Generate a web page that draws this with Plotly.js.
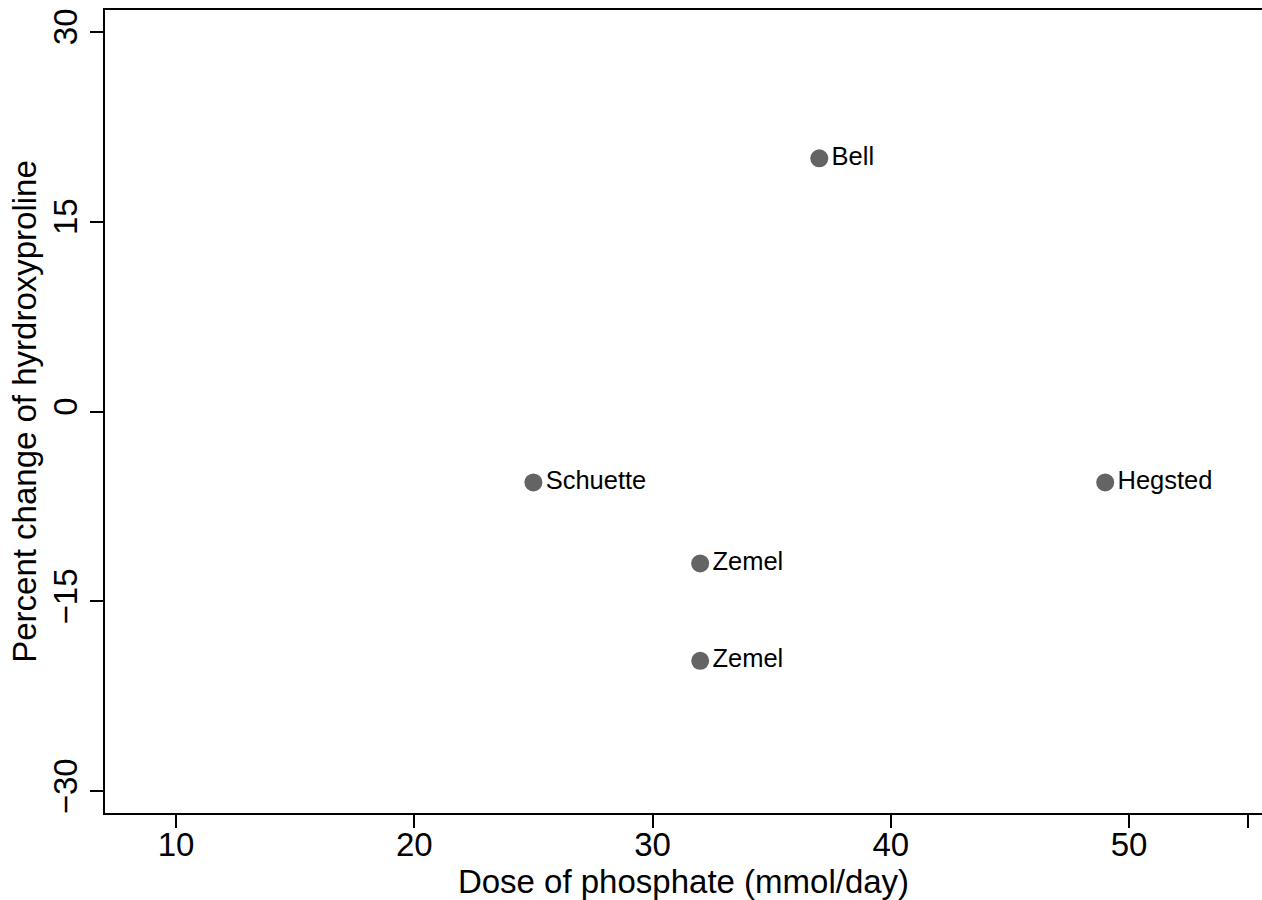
<!DOCTYPE html>
<html>
<head>
<meta charset="utf-8">
<script src="https://cdn.plot.ly/plotly-3.0.1.min.js"></script>
<style>html,body{margin:0;padding:0;background:#fff;}#chart{width:1262px;height:900px;}</style>
</head>
<body>
<div id="chart"></div>
<script>
const studies = ["Bell", "Schuette", "Hegsted", "Zemel", "Zemel"];
const dose = [37, 25, 49, 32, 32];
const pctChange = [20, -5.6, -5.6, -12, -19.7];
const xTickVals = [10, 20, 30, 40, 50, 55];
const xTickText = ["10", "20", "30", "40", "50", ""];
const yTickVals = [-30, -15, 0, 15, 30];
const yTickText = ["\u221230", "\u221215", "0", "15", "30"];

const FONT = "Liberation Sans, Arial, Helvetica, sans-serif";

const trace = {
  type: "scatter",
  mode: "markers+text",
  x: dose,
  y: pctChange,
  text: studies,
  textposition: "middle right",
  textfont: {family: FONT, size: 25.5, color: "#000"},
  marker: {size: 18, color: "#646464"},
  hoverinfo: "x+y+text",
  cliponaxis: false
};

const layout = {
  width: 1262,
  height: 900,
  margin: {l: 105, r: 0, t: 10, b: 87},
  paper_bgcolor: "#fff",
  plot_bgcolor: "#fff",
  showlegend: false,
  font: {family: FONT, color: "#000"},
  xaxis: {
    range: [7.02, 55.58],
    tickvals: xTickVals,
    ticktext: xTickText,
    ticks: "outside",
    ticklen: 13,
    tickwidth: 2,
    tickcolor: "#000",
    tickfont: {size: 33, family: FONT},
    ticklabelstandoff: -12,
    showline: true,
    linewidth: 2,
    linecolor: "#000",
    mirror: true,
    showgrid: false,
    zeroline: false,
    title: {text: "Dose of phosphate (mmol/day)", font: {size: 33, family: FONT}, standoff: 0}
  },
  yaxis: {
    range: [-31.72, 31.72],
    tickvals: yTickVals,
    ticktext: yTickText,
    tickangle: -90,
    ticks: "outside",
    ticklen: 13,
    tickwidth: 2,
    tickcolor: "#000",
    tickfont: {size: 33, family: FONT},
    showline: true,
    linewidth: 2,
    linecolor: "#000",
    mirror: false,
    showgrid: false,
    zeroline: false,
    title: {text: "Percent change of hyrdroxyproline", font: {size: 33, family: FONT}, standoff: 0}
  }
};

Plotly.newPlot("chart", [trace], layout, {displayModeBar: false});
</script>
</body>
</html>
